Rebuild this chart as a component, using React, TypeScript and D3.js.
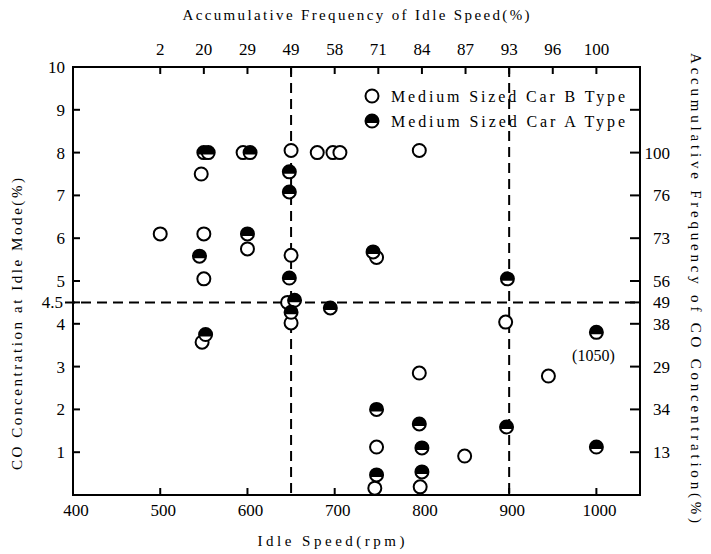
import * as d3 from "d3";

// idle speed (rpm) / CO concentration (%)
const typeBRpm = [500, 550, 547, 550, 548, 595, 600, 650, 650, 646, 650, 680, 698, 706, 748, 748, 746, 797, 797, 798, 849, 896, 945];
const typeBCo = [6.1, 6.1, 7.5, 5.05, 3.57, 8.0, 5.75, 8.05, 5.6, 4.5, 4.02, 8.0, 8.0, 8.0, 5.55, 1.12, 0.16, 8.05, 2.85, 0.19, 0.91, 4.04, 2.78];

const typeARpm = [550, 555, 603, 600, 545, 552, 648, 648, 648, 654, 650, 695, 744, 748, 748, 797, 800, 800, 898, 897, 1000, 1000];
const typeACo = [8.0, 8.0, 8.0, 6.1, 5.58, 3.75, 7.55, 7.08, 5.07, 4.55, 4.27, 4.37, 5.68, 2.0, 0.47, 1.66, 1.1, 0.54, 5.05, 1.59, 3.8, 1.12];

// axis ticks
const bottomTicks = [400, 500, 600, 700, 800, 900, 1000];
const topTickRpm = [500, 550, 600, 650, 700, 750, 800, 850, 900, 950, 1000];
const topTickLabels = ["2", "20", "29", "49", "58", "71", "84", "87", "93", "96", "100"];
const leftTicks = [1, 2, 3, 4, 4.5, 5, 6, 7, 8, 9, 10];
const rightTickCo = [9, 8, 7, 6, 5, 4.5, 4, 3, 2, 1];
const rightTickLabels = ["", "100", "76", "73", "56", "49", "38", "29", "34", "13"];

// reference lines
const refRpm = [650, 900];
const refCo = 4.5;

const W = 711;
const H = 554;
const FONT = "'Liberation Serif', 'DejaVu Serif', serif";

const x = d3.scaleLinear().domain([400, 1050]).range([73, 640]);
const y = d3.scaleLinear().domain([0, 10]).range([495, 67]);

const R = 6.5;
// half filled marker: black cap above a chord slightly below centre
const chordY = 2;
const chordX = Math.sqrt(R * R - chordY * chordY);
const capPath = `M${-chordX},${chordY} A${R},${R} 0 1 1 ${chordX},${chordY} Z`;

const OpenMark = ({ cx, cy }: { cx: number; cy: number }) => (
  <circle cx={cx} cy={cy} r={R} fill="white" stroke="black" strokeWidth={2} />
);

const HalfMark = ({ cx, cy }: { cx: number; cy: number }) => (
  <g transform={`translate(${cx},${cy})`}>
    <circle r={R} fill="white" stroke="black" strokeWidth={2} />
    <path d={capPath} fill="black" />
  </g>
);

export default function App() {
  const [x0, x1] = x.range();
  const [y0, y1] = y.range();
  return (
    <svg
      width={W}
      height={H}
      style={{ position: "absolute", left: 0, top: 0, background: "white", fontFamily: FONT }}
    >
      {/* titles */}
      <text x={356} y={20} fontSize={15} textAnchor="middle" textLength={347} lengthAdjust="spacing">
        Accumulative Frequency of Idle Speed(%)
      </text>
      <text x={331} y={546} fontSize={15} textAnchor="middle" textLength={147} lengthAdjust="spacing">
        Idle Speed(rpm)
      </text>
      <text
        transform={`translate(22,324) rotate(-90)`}
        fontSize={15}
        textAnchor="middle"
        textLength={292}
        lengthAdjust="spacing"
      >
        CO Concentration at Idle Mode(%)
      </text>
      <text
        transform={`translate(691,288) rotate(90)`}
        fontSize={15}
        textAnchor="middle"
        textLength={470}
        lengthAdjust="spacing"
      >
        Accumulative Frequency of CO Concentration(%)
      </text>

      {/* dashed reference lines */}
      {refRpm.map((r) => (
        <line key={r} x1={x(r)} x2={x(r)} y1={y1} y2={y0} stroke="black" strokeWidth={2} strokeDasharray="10 6" />
      ))}
      <line x1={x0 - 8} x2={x1} y1={y(refCo)} y2={y(refCo)} stroke="black" strokeWidth={2} strokeDasharray="10 6" />

      {/* frame */}
      <rect x={x0} y={y1} width={x1 - x0} height={y0 - y1} fill="none" stroke="black" strokeWidth={2} />

      {/* bottom axis */}
      {bottomTicks.map((t) => (
        <g key={t}>
          {t > 400 && <line x1={x(t)} x2={x(t)} y1={y0} y2={y0 - 7} stroke="black" strokeWidth={2} />}
          <text x={x(t) + 3} y={y0 + 21} fontSize={17} textAnchor="middle">
            {t}
          </text>
        </g>
      ))}

      {/* top axis */}
      {topTickRpm.map((t, i) => (
        <g key={t}>
          <line x1={x(t)} x2={x(t)} y1={y1} y2={y1 + 7} stroke="black" strokeWidth={2} />
          <text x={x(t)} y={y1 - 12} fontSize={17} textAnchor="middle">
            {topTickLabels[i]}
          </text>
        </g>
      ))}

      {/* left axis */}
      {leftTicks.map((t) => (
        <g key={t}>
          {t < 10 && <line x1={x0} x2={x0 + 7} y1={y(t)} y2={y(t)} stroke="black" strokeWidth={2} />}
          <text x={t === 4.5 ? x0 - 10 : x0 - 8} y={y(t) + 6} fontSize={17} textAnchor="end">
            {t}
          </text>
        </g>
      ))}

      {/* right axis */}
      {rightTickCo.map((t, i) => (
        <g key={t}>
          <line x1={x1} x2={x1 - 10} y1={y(t)} y2={y(t)} stroke="black" strokeWidth={2} />
          <text x={670} y={y(t) + 6} fontSize={17} textAnchor="end">
            {rightTickLabels[i]}
          </text>
        </g>
      ))}

      {/* data */}
      {typeBRpm.map((r, i) => (
        <OpenMark key={"b" + i} cx={x(r)} cy={y(typeBCo[i])} />
      ))}
      {typeARpm.map((r, i) => (
        <HalfMark key={"a" + i} cx={x(r)} cy={y(typeACo[i])} />
      ))}

      <text x={x(1000) - 3} y={y(3.8) + 29} fontSize={16} textAnchor="middle">
        (1050)
      </text>

      {/* legend */}
      <OpenMark cx={372} cy={96} />
      <text x={391} y={102} fontSize={16} textLength={234} lengthAdjust="spacing">
        Medium Sized Car B Type
      </text>
      <HalfMark cx={372} cy={121} />
      <text x={391} y={127} fontSize={16} textLength={234} lengthAdjust="spacing">
        Medium Sized Car A Type
      </text>
    </svg>
  );
}
